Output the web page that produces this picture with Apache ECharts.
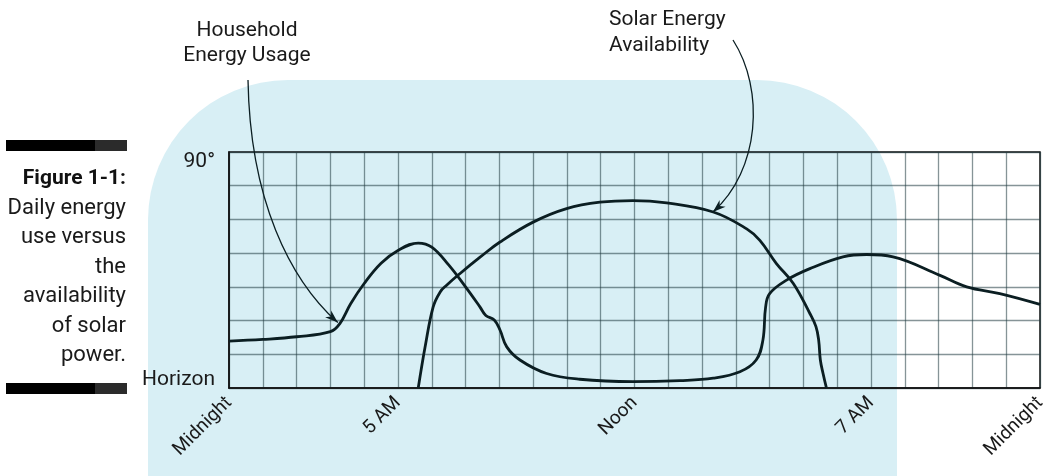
<!DOCTYPE html>
<html>
<head>
<meta charset="utf-8">
<script src="https://cdn.jsdelivr.net/npm/echarts@6/dist/echarts.min.js"></script>
<style>
html,body{margin:0;padding:0;background:#fff;}
#main{width:1055px;height:476px;}
</style>
</head>
<body>
<div id="main"></div>
<script>
// ---- data (hours after midnight, height above horizon in grid rows) ----
const householdUsage = [
  [0,1.39],[1,1.44],[2,1.52],[3,1.67],[3.28,1.91],[3.6,2.5],[4,3.1],[4.5,3.7],[5,4.08],[5.6,4.3],
  [6,4.18],[6.5,3.65],[7,3.0],[7.43,2.4],[7.6,2.15],[7.85,2.02],[8.02,1.72],[8.22,1.22],
  [8.61,0.83],[9.4,0.43],[10.38,0.26],[11.95,0.19],[13.34,0.22],[14.33,0.29],[15.12,0.48],
  [15.6,0.83],[15.8,1.42],[15.88,2.4],[16.0,2.8],[16.5,3.2],[17.19,3.54],[18.17,3.89],
  [18.87,3.96],[19.65,3.89],[21.04,3.34],[21.83,3.0],[22.81,2.8],[24,2.48]
];
const solarAvailability = [
  [5.6,0],[5.68,0.5],[5.8,1.2],[6.04,2.4],[6.25,2.85],[6.44,3.05],[6.83,3.39],[7.43,3.88],
  [8.02,4.33],[9.0,4.92],[9.99,5.32],[10.98,5.51],[11.95,5.56],[12.95,5.49],[14.33,5.22],
  [15.32,4.72],[15.71,4.38],[16.2,3.69],[16.7,3.1],[17.19,2.21],[17.37,1.82],[17.45,1.42],
  [17.5,0.83],[17.58,0.43],[17.68,0]
];
const xTickHours = [0,5,12,19,24];
const xTickNames = ['Midnight','5 AM','Noon','7 AM','Midnight'];
const yTickValues = [0,7];
const yTickNames = ['Horizon','90°'];
const seriesNames = ['Household Energy Usage','Solar Energy Availability'];
const captionLines = ['Daily energy','use versus','the','availability','of solar','power.'];

const FONT = 'Roboto, "Noto Sans", sans-serif';
const INK = '#0b1e22';
const TXT = '#1a1a1a';
const chart = echarts.init(document.getElementById('main'), null, {renderer:'canvas'});

const option = {
  animation:false,
  backgroundColor:'#ffffff',
  grid:{left:229,top:152,width:811,height:236,show:true,borderColor:'#111',borderWidth:1.5,backgroundColor:'transparent'},
  xAxis:{
    type:'value',min:0,max:24,interval:1,
    axisLine:{show:true,lineStyle:{color:'#111',width:1.5}},
    axisTick:{show:false},
    splitLine:{show:true,lineStyle:{color:'rgba(35,60,65,0.55)',width:1.3}},
    axisLabel:{
      rotate:45,margin:12,fontFamily:FONT,fontSize:19,color:TXT,
      formatter:function(v){const i=xTickHours.indexOf(v);return i>=0?xTickNames[i]:'';}
    }
  },
  yAxis:{
    type:'value',min:0,max:7,interval:1,
    axisLine:{show:true,lineStyle:{color:'#111',width:1.5}},
    axisTick:{show:false},
    splitLine:{show:true,lineStyle:{color:'rgba(35,60,65,0.55)',width:1.3}},
    axisLabel:{
      margin:14,fontFamily:FONT,fontSize:21,color:TXT,
      formatter:function(v){const i=yTickValues.indexOf(v);if(i<0)return '';return i===0?'{b|'+yTickNames[i]+'}':'{t|'+yTickNames[i]+'}';},
      rich:{
        b:{fontFamily:FONT,fontSize:21,color:TXT,padding:[0,0,16,0]},
        t:{fontFamily:FONT,fontSize:21,color:TXT,padding:[20,0,0,0]}
      }
    }
  },
  series:[
    {name:seriesNames[0],type:'line',data:householdUsage,showSymbol:false,smooth:0.4,
     lineStyle:{color:INK,width:2.8},z:5},
    {name:seriesNames[1],type:'line',data:solarAvailability,showSymbol:false,smooth:0.4,
     lineStyle:{color:INK,width:2.8},z:5}
  ]
};
chart.setOption(option);

// annotation graphics
const g = [];
g.push({type:'rect',z:-100,silent:true,shape:{x:148,y:80,width:749,height:420,r:[140,140,0,0]},style:{fill:'#d8eff5'}});
// caption bars
[140,383].forEach(function(y){
  g.push({type:'rect',z:-50,shape:{x:6,y:y,width:89,height:11},style:{fill:'#000'}});
  g.push({type:'rect',z:-50,shape:{x:95,y:y,width:32,height:11},style:{fill:'#2b2b2b'}});
});
g.push({type:'text',style:{text:'Figure 1-1:',x:126,y:179,align:'right',verticalAlign:'middle',font:'bold 21px '+FONT,fill:'#111'}});
captionLines.forEach(function(t,i){
  g.push({type:'text',style:{text:t,x:126,y:208+i*29.5,align:'right',verticalAlign:'middle',font:'22px '+FONT,fill:TXT}});
});
// labels for the two curves
g.push({type:'text',style:{text:'Household',x:247,y:31,align:'center',verticalAlign:'middle',font:'21px '+FONT,fill:TXT}});
g.push({type:'text',style:{text:'Energy Usage',x:247,y:56,align:'center',verticalAlign:'middle',font:'21px '+FONT,fill:TXT}});
g.push({type:'text',style:{text:'Solar Energy',x:609,y:20,align:'left',verticalAlign:'middle',font:'21px '+FONT,fill:TXT}});
g.push({type:'text',style:{text:'Availability',x:609,y:46,align:'left',verticalAlign:'middle',font:'21px '+FONT,fill:TXT}});

function arrowHead(tip, from, len, half){
  const dx=tip[0]-from[0], dy=tip[1]-from[1], d=Math.sqrt(dx*dx+dy*dy);
  const ux=dx/d, uy=dy/d;
  const bx=tip[0]-ux*len, by=tip[1]-uy*len;
  return {type:'polygon',z:10,shape:{points:[tip,[bx-uy*half,by+ux*half],[tip[0]-ux*len*0.7,tip[1]-uy*len*0.7],[bx+uy*half,by-ux*half]]},style:{fill:INK}};
}
const tipH = chart.convertToPixel({gridIndex:0},[3.22,1.94]);
const tipS = chart.convertToPixel({gridIndex:0},[14.32,5.22]);
const c1 = [tipH[0]-48, tipH[1]-43];
g.push({type:'bezierCurve',z:10,shape:{x1:248,y1:80,cpx1:250,cpy1:200,cpx2:c1[0],cpy2:c1[1],x2:tipH[0],y2:tipH[1]},style:{stroke:INK,lineWidth:1.3,fill:null}});
g.push(arrowHead(tipH,c1,13,4.5));
const c2 = [tipS[0]+47, tipS[1]-42];
g.push({type:'bezierCurve',z:10,shape:{x1:733,y1:40,cpx1:765,cpy1:90,cpx2:c2[0],cpy2:c2[1],x2:tipS[0],y2:tipS[1]},style:{stroke:INK,lineWidth:1.3,fill:null}});
g.push(arrowHead(tipS,c2,13,4.5));

chart.setOption({graphic:{elements:g}});
</script>
</body>
</html>
